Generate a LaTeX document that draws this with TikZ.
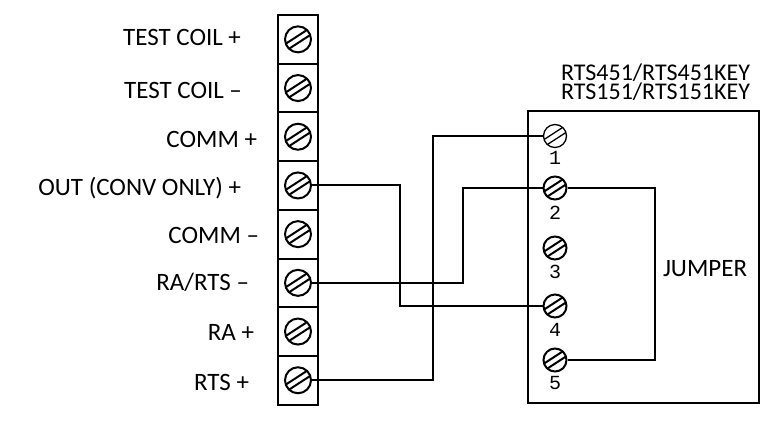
\documentclass[tikz,border=0pt]{standalone}
\usepackage{fontspec}
\setmainfont{Carlito}
\newfontfamily\numfont{Liberation Mono}
\usetikzlibrary{positioning}

\begin{document}
\begin{tikzpicture}[x=1pt,y=-1pt,line width=2pt,font=\fontsize{25}{25}\selectfont]
  \tikzstyle{cell}=[draw,minimum width=40pt,minimum height=48.7pt,inner sep=0pt]
  \tikzstyle{screw}=[circle,draw,minimum size=26pt,inner sep=0pt,path picture={
    \draw ([shift={(123:3pt)}]path picture bounding box.center) ++(33:16pt) -- ++(213:32pt);
    \draw ([shift={(303:3pt)}]path picture bounding box.center) ++(33:16pt) -- ++(213:32pt);}]
  \tikzstyle{key screw}=[screw, minimum size=23pt]
  \tikzstyle{thin screw}=[key screw, line width=1.3pt]
  \tikzstyle{num}=[font=\numfont\fontsize{20}{20}\selectfont, inner sep=0pt]
  \tikzstyle{annot}=[inner sep=0pt]

  \useasboundingbox (0,0) rectangle (784,424);

  % Draw the terminal block
  \foreach \name in {1,...,8}
  \node[cell] (C-\name) at (298,{-9.35+48.7*\name}) {};
  \foreach \name in {1,...,8}
  \node[screw] (T-\name) at (C-\name) {};

  % Terminal labels
  \foreach \name / \x / \y / \text in {1/242/45/{TEST COIL +}, 2/243/98/{TEST COIL –},
    3/258/147/{COMM +}, 4/242/195/{OUT (CONV ONLY) +}, 5/260/243/{COMM –},
    6/250/290/{RA/RTS –}, 7/255/340/{RA +}, 8/250/390/{RTS +}}
  \node[annot, anchor=base east] (L-\name) at (\x,\y) {\text};

  % Draw the key box and its screws
  \node[draw, line width=1.5pt, minimum width=231pt, minimum height=292pt,
    inner sep=0pt] (box) at (643.5,257) {};
  \node[annot, align=right, anchor=south east, font=\fontsize{24}{19}\selectfont]
    (title) at (751,102) {RTS451/RTS451KEY\\RTS151/RTS151KEY};

  \node[thin screw] (K-1) at (555,136) {};
  \foreach \name / \y in {2/188,3/248,4/306,5/360}
  \node[key screw] (K-\name) at (555,\y) {};
  \foreach \name / \y in {1/158,2/213,3/272,4/330,5/383}
  \node[num] (N-\name) at (555,\y) {\name};

  \node[annot, anchor=base west] (jl) at (662,276) {JUMPER};

  % Connect terminals
  \draw (T-4.east) -- ++(88,0) |- (K-4.west);
  \draw (T-6.east) -- ++(151,0) |- (K-2.west);
  \draw (T-8.east) -- ++(121,0) |- (K-1.west);
  \draw (K-2.east) -- ++(87.5,0) |- (K-5.east);
\end{tikzpicture}
\end{document}
